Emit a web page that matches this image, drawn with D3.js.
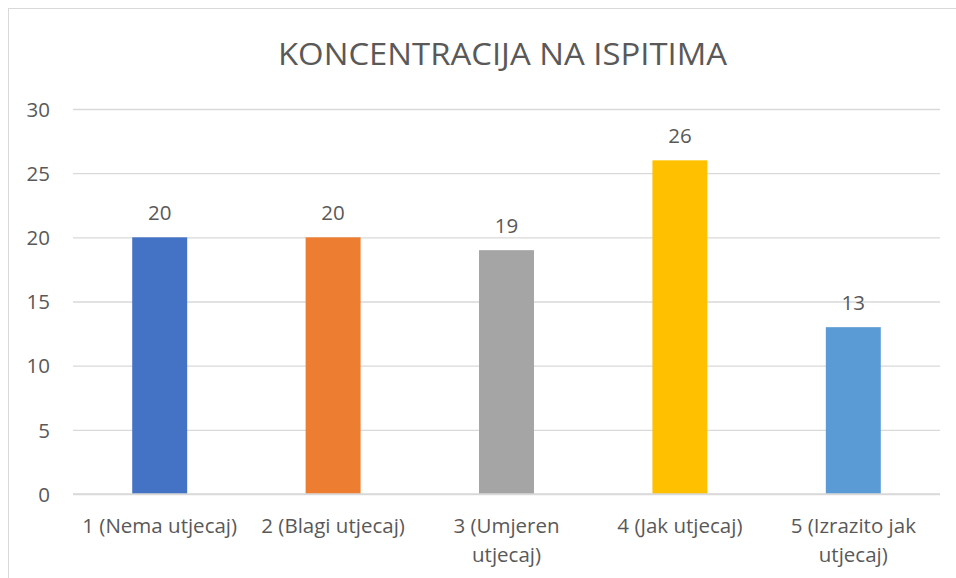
<!DOCTYPE html>
<html>
<head>
<meta charset="utf-8">
<script src="https://cdn.jsdelivr.net/npm/d3@7"></script>
<style>
  html, body { margin: 0; padding: 0; background: #fff; }
  svg { display: block; }
  text { font-family: "Open Sans", Lato, sans-serif; fill: #595959; }
</style>
</head>
<body>
<svg id="chart" width="956" height="578"></svg>
<script>
const title = "KONCENTRACIJA NA ISPITIMA";
const categories = [
  ["1 (Nema utjecaj)"],
  ["2 (Blagi utjecaj)"],
  ["3 (Umjeren", "utjecaj)"],
  ["4 (Jak utjecaj)"],
  ["5 (Izrazito jak", "utjecaj)"]
];
const values = [20, 20, 19, 26, 13];
const colors = ["#4472c4", "#ed7d31", "#a5a5a5", "#ffc000", "#5b9bd5"];
const yTicks = [0, 5, 10, 15, 20, 25, 30];

const svg = d3.select("#chart");
const W = 956, H = 578;
const margin = { left: 73, right: 16, top: 109, bottom: 84 };
const fs = "20.5px";

// outer chart border
svg.append("rect")
  .attr("x", 8.5).attr("y", 8.5)
  .attr("width", W + 20).attr("height", H + 20)
  .attr("fill", "none").attr("stroke", "#d9d9d9").attr("stroke-width", 1);

const x = d3.scaleBand()
  .domain(d3.range(categories.length))
  .range([margin.left, W - margin.right])
  .paddingInner(0.683).paddingOuter(0.3415);

const y = d3.scaleLinear().domain([0, 30]).range([H - margin.bottom, margin.top]);

// gridlines
const grid = svg.append("g")
  .attr("transform", `translate(${margin.left},0)`)
  .call(d3.axisLeft(y).tickValues(yTicks).tickSize(-(W - margin.right - margin.left)).tickFormat(""));
grid.select(".domain").remove();
grid.selectAll("line").attr("stroke", "#d9d9d9").attr("stroke-width", 1.3);

// y tick labels
const yAxis = svg.append("g")
  .attr("transform", `translate(${margin.left},0)`)
  .call(d3.axisLeft(y).tickValues(yTicks).tickSize(0).tickPadding(23));
yAxis.select(".domain").remove();
yAxis.selectAll("text")
  .style("font-size", fs).attr("text-anchor", "end").attr("dy", "0.35em");

// bars
svg.append("g").selectAll("rect")
  .data(values)
  .join("rect")
  .attr("x", (d, i) => x(i))
  .attr("width", x.bandwidth())
  .attr("y", d => y(d))
  .attr("height", d => y(0) - y(d))
  .attr("fill", (d, i) => colors[i]);

// baseline axis line
svg.append("line")
  .attr("x1", margin.left).attr("x2", W - margin.right)
  .attr("y1", y(0)).attr("y2", y(0))
  .attr("stroke", "#d9d9d9").attr("stroke-width", 1.5);

// data labels
svg.append("g").selectAll("text")
  .data(values)
  .join("text")
  .attr("x", (d, i) => x(i) + x.bandwidth() / 2)
  .attr("y", d => y(d) - 17)
  .attr("text-anchor", "middle")
  .style("font-size", fs)
  .text(d => d);

// category labels
const catG = svg.append("g");
categories.forEach((lines, i) => {
  const t = catG.append("text")
    .attr("x", x(i) + x.bandwidth() / 2)
    .attr("y", y(0) + 39)
    .attr("text-anchor", "middle")
    .style("font-size", fs);
  lines.forEach((ln, j) => {
    t.append("tspan")
      .attr("x", x(i) + x.bandwidth() / 2)
      .attr("dy", j === 0 ? 0 : 29)
      .text(ln);
  });
});

// title
svg.append("text")
  .attr("x", 502.5).attr("y", 65)
  .attr("text-anchor", "middle")
  .attr("textLength", 449)
  .attr("lengthAdjust", "spacingAndGlyphs")
  .style("font-size", "31px")
  .text(title);
</script>
</body>
</html>
